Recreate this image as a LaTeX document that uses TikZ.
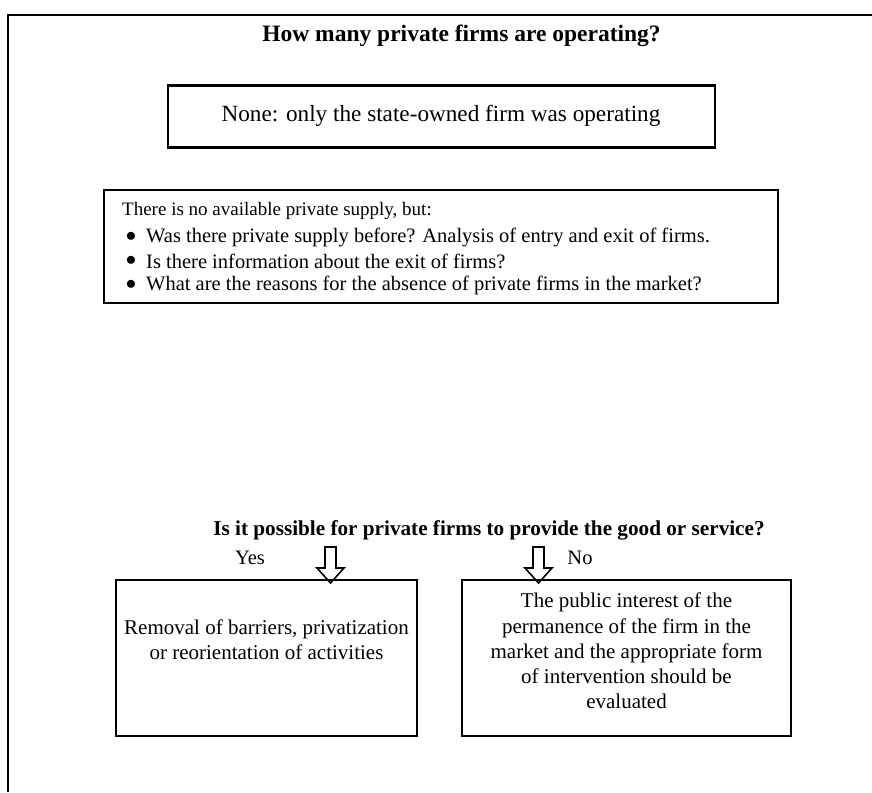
\documentclass[tikz,border=0pt]{standalone}
\usepackage{fontspec}
\setmainfont{Liberation Serif}
\usetikzlibrary{positioning}
\tikzset{
  frameline/.style={line width=2.6pt},
  boxline/.style={draw, line width=2.2pt, rectangle, inner sep=0pt},
  txt/.style={font=\fontsize{20.5}{25}\selectfont, inner sep=0pt},
  bigtxt/.style={font=\fontsize{23.2}{27}\selectfont, inner sep=0pt},
  smalltxt/.style={font=\fontsize{19}{23}\selectfont, inner sep=0pt},
  boxtxt/.style={font=\fontsize{21}{25.2}\selectfont, inner sep=0pt, align=center},
  btxt/.style={font=\fontsize{23.5}{27}\selectfont\bfseries, inner sep=0pt},
  qtxt/.style={font=\fontsize{21.2}{25}\selectfont\bfseries, inner sep=0pt},
  blockarrow/.style={draw, line width=1.6pt, fill=white, line join=miter}
}
\begin{document}
\begin{tikzpicture}[x=1pt,y=-1pt]
\useasboundingbox (0,0) rectangle (872,792);
% outer frame (cropped on the right and bottom)
\draw[frameline] (8,792) -- (8,15) -- (872,15);

% title
\node[btxt] (title) at (461.5,36) {How many private firms are operating?};

% box 1
\node[boxline, minimum width=547pt, minimum height=62pt] (b1) at (441.5,116.5) {};
\node[bigtxt] (t1) at (441,116) {None: only the state-owned firm was operating};

% box 2
\node[boxline, minimum width=674pt, minimum height=113pt] (b2) at (441,246.5) {};
\node[smalltxt, anchor=west] (h2) at (122,211) {There is no available private supply, but:};
\node[txt] (d1) at (131,237) {$\bullet$};
\node[txt] (d2) at (131,261) {$\bullet$};
\node[txt] (d3) at (131,285) {$\bullet$};
\node[txt, anchor=west] (l1) at (146,237) {Was there private supply before? Analysis of entry and exit of firms.};
\node[txt, anchor=west] (l2) at (146,261) {Is there information about the exit of firms?};
\node[txt, anchor=west] (l3) at (146,285) {What are the reasons for the absence of private firms in the market?};

% question
\node[qtxt] (q) at (489,530) {Is it possible for private firms to provide the good or service?};

% yes / no labels
\node[txt] (yes) at (250,558) {Yes};
\node[txt] (no) at (580,558) {No};

% block arrows
\draw[blockarrow] (325,547) -- (336,547) -- (336,568) -- (344,568) -- (330.5,583) -- (317,568) -- (325,568) -- cycle;
\draw[blockarrow] (533,547) -- (544,547) -- (544,568) -- (552,568) -- (538.5,583) -- (525,568) -- (533,568) -- cycle;

% box 3
\node[boxline, minimum width=301pt, minimum height=156pt] (b3) at (266.5,658) {};
\node[boxtxt] (t3) at (266.5,640) {Removal of barriers, privatization\\or reorientation of activities};

% box 4
\node[boxline, minimum width=329pt, minimum height=156pt] (b4) at (626.5,658) {};
\node[boxtxt] (t4) at (626.5,651) {The public interest of the\\permanence of the firm in the\\market and the appropriate form\\of intervention should be\\evaluated};
\end{tikzpicture}
\end{document}
